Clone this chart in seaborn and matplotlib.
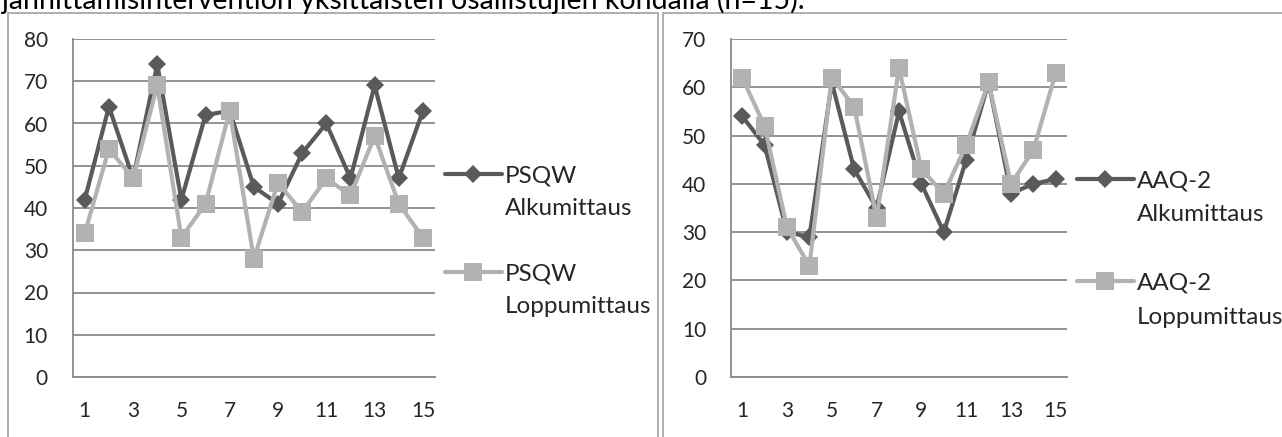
import matplotlib
matplotlib.use("Agg")
import matplotlib.pyplot as plt
import seaborn as sns
import pandas as pd
from matplotlib.lines import Line2D
from matplotlib.patches import Rectangle
from matplotlib.ticker import MultipleLocator

# ---------------- data ----------------
participants = list(range(1, 16))
psqw_alku = [42, 64, 47, 74, 42, 62, 63, 45, 41, 53, 60, 47, 69, 47, 63]
psqw_loppu = [34, 54, 47, 69, 33, 41, 63, 28, 46, 39, 47, 43, 57, 41, 33]
aaq_alku = [54, 48, 30, 29, 61, 43, 35, 55, 40, 30, 45, 61, 38, 40, 41]
aaq_loppu = [62, 52, 31, 23, 62, 56, 33, 64, 43, 38, 48, 61, 40, 47, 63]
x_tick_values = [1, 3, 5, 7, 9, 11, 13, 15]
series_names = ["Alkumittaus", "Loppumittaus"]
title_text = "jännittämisintervention yksittäisten osallistujien kohdalla (n=15)."

# ---------------- style ----------------
sns.set_style("white")
plt.rcParams["font.family"] = ["Lato", "DejaVu Sans"]

W, H = 1282, 437
fig = plt.figure(figsize=(W / 100, H / 100), dpi=100)

DARK = "#5a5a5a"
LIGHT = "#b2b2b2"
GRID = "#8a8a8a"
BOX = "#a8a8a8"
TICK_FS = 15
LEG_FS = 17.5


def px_axes(x0, x1, ytop, ybot):
    return fig.add_axes([x0 / W, 1 - ybot / H, (x1 - x0) / W, (ybot - ytop) / H])


def draw_panel(ax, alku, loppu, ymax, name, leg_x, leg_yc, leg_spacing):
    df = pd.DataFrame({
        "participant": participants * 2,
        "value": alku + loppu,
        "series": [series_names[0]] * len(alku) + [series_names[1]] * len(loppu),
    })
    d1 = df[df.series == series_names[0]]
    d2 = df[df.series == series_names[1]]
    sns.lineplot(data=d1, x="participant", y="value", ax=ax, color=DARK, lw=3.0,
                 marker="D", markersize=9, markeredgewidth=0, legend=False, zorder=3)
    sns.lineplot(data=d2, x="participant", y="value", ax=ax, color=LIGHT, lw=3.0,
                 marker="s", markersize=13.5, markeredgewidth=0, legend=False, zorder=4)
    ax.set_xlim(0.5, 15.5)
    ax.set_ylim(0, ymax)
    ax.set_xlabel("")
    ax.set_ylabel("")
    ax.yaxis.set_major_locator(MultipleLocator(10))
    ax.set_xticks(x_tick_values)
    ax.set_xticklabels([str(v) for v in x_tick_values])
    ax.xaxis.set_minor_locator(MultipleLocator(1, offset=0.5))
    ax.tick_params(axis="x", which="major", length=0, pad=17, labelsize=TICK_FS)
    ax.tick_params(axis="x", which="minor", length=5.8, width=1.3, color=GRID, direction="out")
    ax.tick_params(axis="y", which="major", length=5.8, width=1.3, color=GRID,
                   direction="out", pad=12, labelsize=TICK_FS)
    ax.yaxis.grid(True, color=GRID, lw=1.3)
    ax.xaxis.grid(False)
    ax.set_axisbelow(True)
    for s in ["top", "right"]:
        ax.spines[s].set_visible(False)
    for s in ["left", "bottom"]:
        ax.spines[s].set_color(GRID)
        ax.spines[s].set_linewidth(1.3)
    ax.patch.set_alpha(0)

    lines = ax.get_lines()
    blank = Line2D([], [], linestyle="none")
    handles = [lines[0], blank, blank, lines[1], blank]
    labels = [name, series_names[0], " ", name, series_names[1]]
    ax.legend(handles, labels, loc="center left",
              bbox_to_anchor=(leg_x / W, 1 - leg_yc / H), bbox_transform=fig.transFigure,
              frameon=False, borderpad=0, borderaxespad=0,
              handlelength=57 / (LEG_FS * 1.389), handletextpad=3 / (LEG_FS * 1.389),
              labelspacing=leg_spacing, fontsize=LEG_FS, numpoints=1)


ax1 = px_axes(72.7, 435, 39, 377)
draw_panel(ax1, psqw_alku, psqw_loppu, 80, "PSQW", 445, 241, 0.48)

ax2 = px_axes(731, 1067, 39, 377)
draw_panel(ax2, aaq_alku, aaq_loppu, 70, "AAQ-2", 1077, 249, 0.54)

# chart frames
fig.add_artist(Rectangle((8 / W, -0.1), (658 - 8) / W, 1 - 13 / H + 0.1,
                         transform=fig.transFigure, fill=False, edgecolor=BOX, lw=1.3))
fig.add_artist(Rectangle((663 / W, -0.1), (1400 - 663) / W, 1 - 13 / H + 0.1,
                         transform=fig.transFigure, fill=False, edgecolor=BOX, lw=1.3))

# cut-off caption line above the charts (as in the reference)
fig.text(2 / W, 1 - 9 / H, title_text, ha="left", va="baseline", fontsize=20.5, color="black")

fig.savefig("out.png", dpi=100)
